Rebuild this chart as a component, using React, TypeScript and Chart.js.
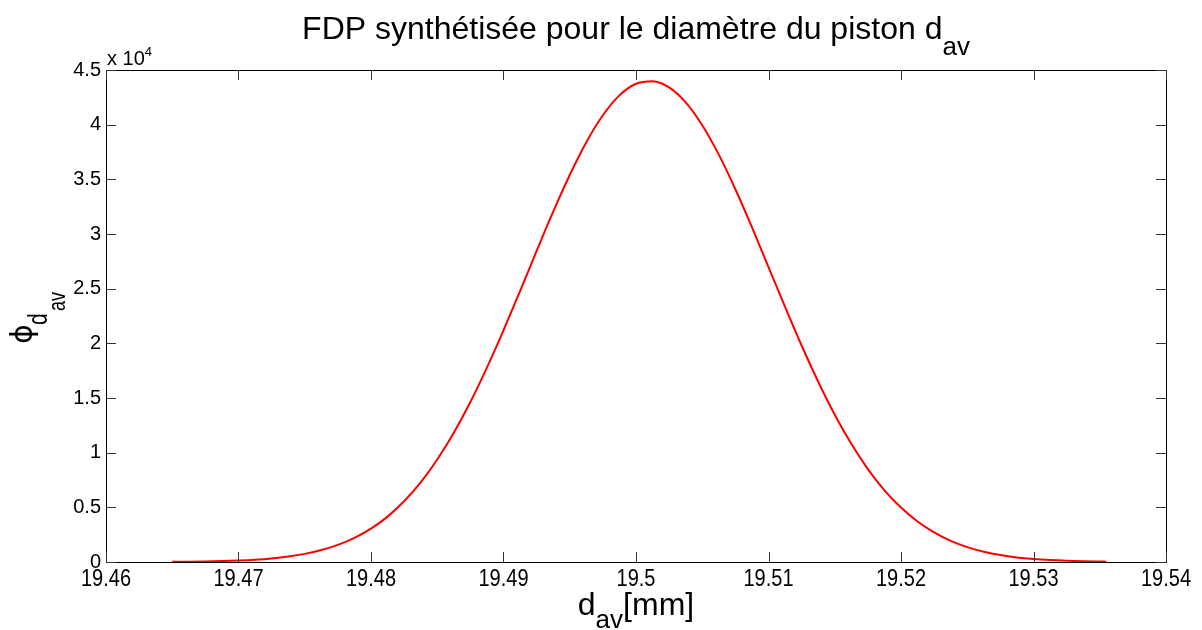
import React, { useEffect, useRef } from "react";
import { Chart, registerables } from "chart.js";

Chart.register(...registerables);

const diameters = [
  19.465, 19.46625, 19.4675, 19.46875, 19.47, 19.47125, 19.4725, 19.47375,
  19.475, 19.47625, 19.4775, 19.47875, 19.48, 19.48125, 19.4825, 19.48375,
  19.485, 19.48625, 19.4875, 19.48875, 19.49, 19.49125, 19.4925, 19.49375,
  19.495, 19.49625, 19.4975, 19.49875, 19.5, 19.50125, 19.5025, 19.50375,
  19.505, 19.50625, 19.5075, 19.50875, 19.51, 19.51125, 19.5125, 19.51375,
  19.515, 19.51625, 19.5175, 19.51875, 19.52, 19.52125, 19.5225, 19.52375,
  19.525, 19.52625, 19.5275, 19.52875, 19.53, 19.53125, 19.5325, 19.53375,
  19.535, 19.5355,
];
const densities = [
  18, 30, 50, 82, 133, 210, 326, 497, 743, 1090, 1570, 2210, 3050, 4150, 5550,
  7280, 9380, 11830, 14640, 17780, 21190, 24780, 28450, 32040, 35400, 38400,
  40860, 42680, 43740, 43980, 43410, 42040, 39950, 37260, 34090, 30620, 26980,
  23330, 19800, 16490, 13470, 10810, 8500, 6560, 4980, 3700, 2700, 1930, 1360,
  936, 634, 421, 274, 175, 110, 68, 41, 33,
];
const xTicks = [19.46, 19.47, 19.48, 19.49, 19.5, 19.51, 19.52, 19.53, 19.54];
const yTicks = [0, 5000, 10000, 15000, 20000, 25000, 30000, 35000, 40000, 45000];

const titleText = "FDP synthétisée pour le diamètre du piston d";
const titleSub = "av";
const xLabelMain = "d";
const xLabelSub = "av";
const xLabelUnit = "[mm]";
const yLabelMain = "ϕ";
const yLabelSub = "d";
const yLabelSubSub = "av";
const expBase = "x 10";
const expPow = "4";

const FONT = '"Liberation Sans", Arial, Helvetica, sans-serif';
const INK = "#000";

type Run = { text: string; size: number; dy: number; family?: string };

function setFont(ctx: CanvasRenderingContext2D, r: Run) {
  ctx.font = `${r.size}px ${r.family || FONT}`;
}
function drawRuns(ctx: CanvasRenderingContext2D, runs: Run[], x: number, y: number) {
  let cx = x;
  for (const r of runs) {
    setFont(ctx, r);
    ctx.fillText(r.text, cx, y + r.dy);
    cx += ctx.measureText(r.text).width;
  }
}
function runsWidth(ctx: CanvasRenderingContext2D, runs: Run[]) {
  let w = 0;
  for (const r of runs) {
    setFont(ctx, r);
    w += ctx.measureText(r.text).width;
  }
  return w;
}

const decor = {
  id: "decor",
  afterDraw(chart: any) {
    const ctx: CanvasRenderingContext2D = chart.ctx;
    const a = chart.chartArea;
    const xs = chart.scales.x;
    const ys = chart.scales.y;
    ctx.save();
    // box
    ctx.strokeStyle = INK;
    ctx.lineWidth = 1;
    ctx.strokeRect(Math.round(a.left) + 0.5, Math.round(a.top) + 0.5, Math.round(a.right - a.left), Math.round(a.bottom - a.top));
    // inward ticks
    const tl = 10;
    ctx.strokeStyle = "#333";
    ctx.beginPath();
    for (const v of xTicks) {
      const px = Math.round(xs.getPixelForValue(v)) + 0.5;
      ctx.moveTo(px, a.bottom);
      ctx.lineTo(px, a.bottom - tl);
      ctx.moveTo(px, a.top);
      ctx.lineTo(px, a.top + tl);
    }
    for (const v of yTicks) {
      const py = Math.round(ys.getPixelForValue(v)) + 0.5;
      ctx.moveTo(a.left, py);
      ctx.lineTo(a.left + tl, py);
      ctx.moveTo(a.right, py);
      ctx.lineTo(a.right - tl, py);
    }
    ctx.stroke();

    ctx.fillStyle = INK;
    ctx.textBaseline = "alphabetic";
    ctx.textAlign = "left";

    // x tick labels (slightly tall, like the reference)
    ctx.font = `20px ${FONT}`;
    ctx.textAlign = "center";
    for (const v of xTicks) {
      const px = xs.getPixelForValue(v);
      ctx.save();
      ctx.translate(px, a.bottom + 24);
      ctx.scale(1, 1.2);
      ctx.fillText(String(parseFloat(v.toFixed(2))), 0, 0);
      ctx.restore();
    }
    ctx.textAlign = "left";

    // title
    const tRuns: Run[] = [
      { text: titleText, size: 32, dy: 0 },
      { text: titleSub, size: 26, dy: 16 },
    ];
    const tw = runsWidth(ctx, tRuns);
    drawRuns(ctx, tRuns, (a.left + a.right) / 2 - tw / 2, 39);

    // x label
    const xRuns: Run[] = [
      { text: xLabelMain, size: 32, dy: 0 },
      { text: xLabelSub, size: 26, dy: 13 },
      { text: xLabelUnit, size: 32, dy: 0 },
    ];
    const xw = runsWidth(ctx, xRuns);
    drawRuns(ctx, xRuns, (a.left + a.right) / 2 - xw / 2, 615);

    // y label (rotated)
    ctx.save();
    ctx.translate(0, 346);
    ctx.rotate(-Math.PI / 2);
    ctx.font = `30px "DejaVu Sans", ${FONT}`;
    ctx.fillText(yLabelMain, 2, 32);
    ctx.save();
    ctx.translate(21, 47);
    ctx.scale(1, 1.3);
    ctx.font = `21px ${FONT}`;
    ctx.fillText(yLabelSub, 0, 0);
    ctx.restore();
    ctx.save();
    ctx.translate(35, 65);
    ctx.scale(1, 1.3);
    ctx.font = `18px ${FONT}`;
    ctx.fillText(yLabelSubSub, 0, 0);
    ctx.restore();
    ctx.restore();

    // exponent
    drawRuns(ctx, [
      { text: expBase, size: 20, dy: 0 },
      { text: expPow, size: 13, dy: -9 },
    ], a.left + 1, 65);
    ctx.restore();
  },
};

export default function App() {
  const ref = useRef<HTMLCanvasElement>(null);
  useEffect(() => {
    if (!ref.current) return;
    const points = diameters.map((d, i) => ({ x: d, y: densities[i] }));
    const chart = new Chart(ref.current, {
      type: "line",
      data: {
        datasets: [
          {
            data: points,
            borderColor: "#ff0000",
            borderWidth: 2,
            pointRadius: 0,
            cubicInterpolationMode: "monotone",
            fill: false,
          },
        ],
      },
      options: {
        animation: false,
        responsive: false,
        devicePixelRatio: 1,
        layout: { padding: { left: 0, right: 36, top: 70, bottom: 0 } },
        plugins: { legend: { display: false }, tooltip: { enabled: false } },
        scales: {
          x: {
            type: "linear",
            min: 19.46,
            max: 19.54,
            afterBuildTicks: (s: any) => {
              s.ticks = xTicks.map((v) => ({ value: v }));
            },
            afterFit: (s: any) => {
              s.height = 68;
            },
            grid: { display: false, drawTicks: false },
            border: { display: false },
            ticks: { display: false },
          },
          y: {
            type: "linear",
            min: 0,
            max: 45000,
            afterBuildTicks: (s: any) => {
              s.ticks = yTicks.map((v) => ({ value: v }));
            },
            afterFit: (s: any) => {
              s.width = 106;
            },
            grid: { display: false, drawTicks: false },
            border: { display: false },
            ticks: {
              padding: 5,
              color: INK,
              font: { family: FONT, size: 20 },
              autoSkip: false,
              callback: (v: any) => String(Number(v) / 10000),
            },
          },
        },
      },
      plugins: [decor],
    });
    return () => chart.destroy();
  }, []);
  return (
    <div style={{ position: "absolute", left: 0, top: 0, width: 1202, height: 630, background: "#fff" }}>
      <canvas ref={ref} width={1202} height={630} style={{ width: 1202, height: 630 }} />
    </div>
  );
}
